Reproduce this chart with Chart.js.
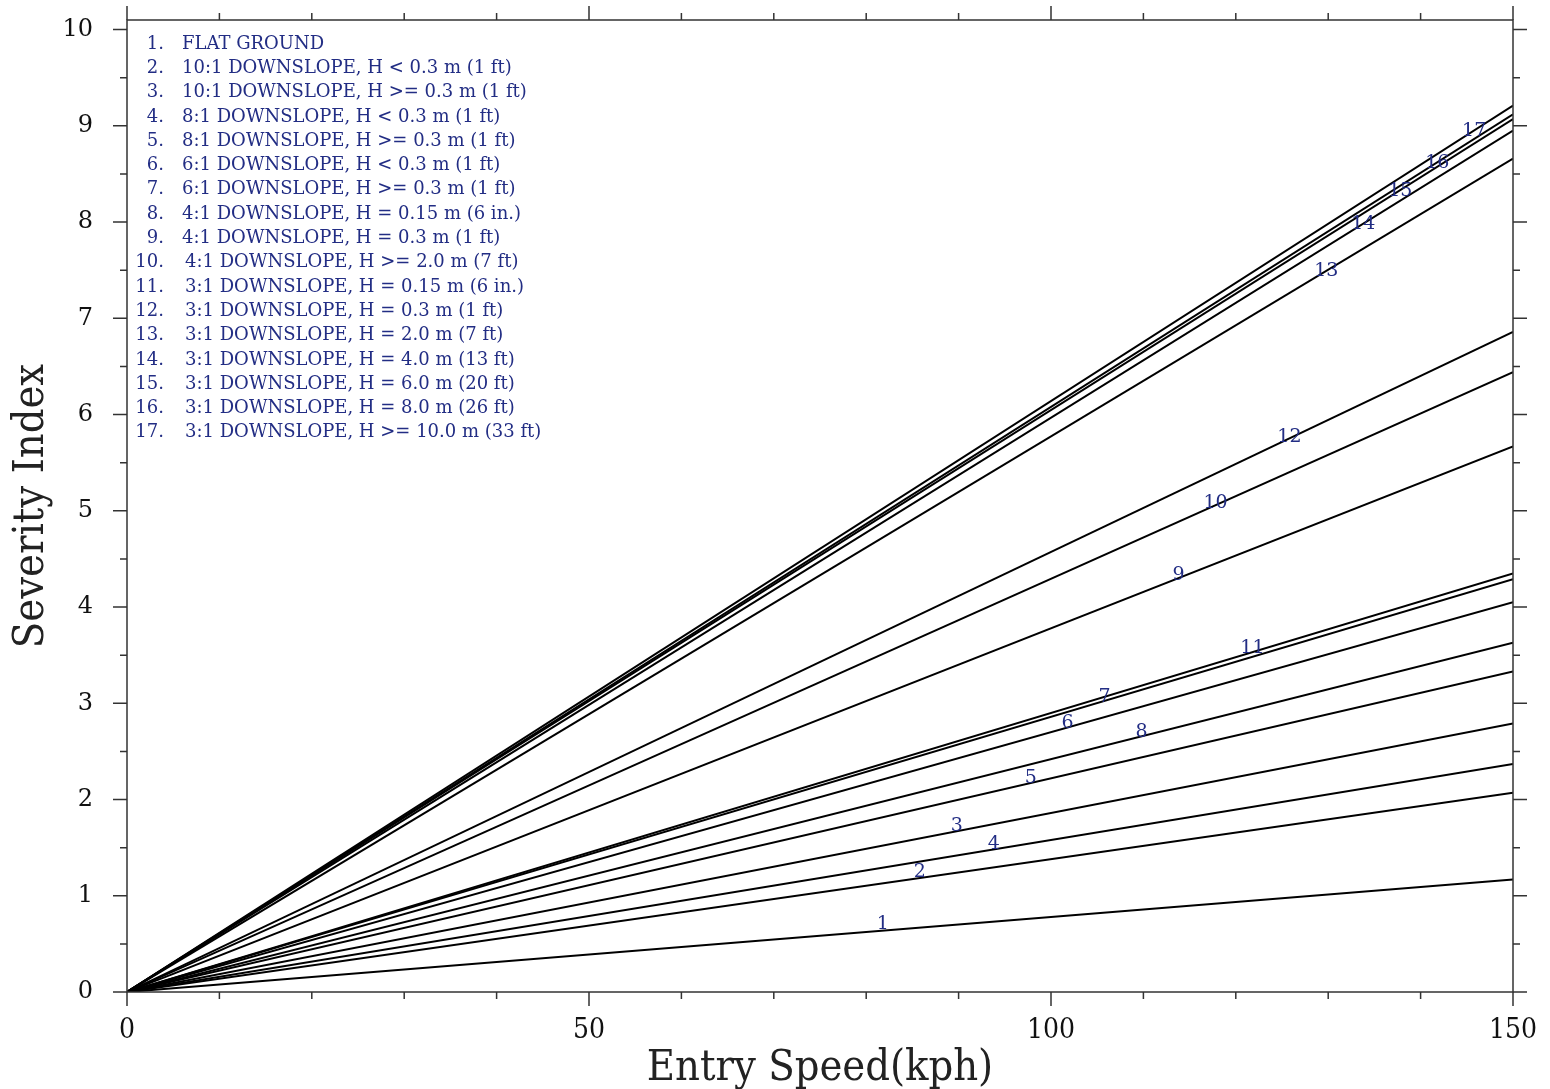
<!DOCTYPE html>
<html>
<head>
<meta charset="utf-8">
<script src="https://cdn.jsdelivr.net/npm/chart.js@4.4.0/dist/chart.umd.min.js"></script>
<style>
    html, body { margin: 0; padding: 0; background: #fff; }
</style>
</head>
<body>
<canvas id="severityChart" width="1550" height="1089"></canvas>
<script>
// entry speed (kph) at which each curve is given
const speedKph = [0, 150];

// severity index for each curve, read at speedKph
const severityValues = [
    [0, 1.17],  // 1
    [0, 2.07],  // 2
    [0, 2.79],  // 3
    [0, 2.37],  // 4
    [0, 3.33],  // 5
    [0, 4.05],  // 6
    [0, 4.29],  // 7
    [0, 3.63],  // 8
    [0, 5.67],  // 9
    [0, 6.44],  // 10
    [0, 4.35],  // 11
    [0, 6.86],  // 12
    [0, 8.66],  // 13
    [0, 8.95],  // 14
    [0, 9.07],  // 15
    [0, 9.12],  // 16
    [0, 9.21]   // 17
];

const curveNames = [
    'FLAT GROUND',
    '10:1 DOWNSLOPE, H < 0.3 m (1 ft)',
    '10:1 DOWNSLOPE, H >= 0.3 m (1 ft)',
    '8:1 DOWNSLOPE, H < 0.3 m (1 ft)',
    '8:1 DOWNSLOPE, H >= 0.3 m (1 ft)',
    '6:1 DOWNSLOPE, H < 0.3 m (1 ft)',
    '6:1 DOWNSLOPE, H >= 0.3 m (1 ft)',
    '4:1 DOWNSLOPE, H = 0.15 m (6 in.)',
    '4:1 DOWNSLOPE, H = 0.3 m (1 ft)',
    '4:1 DOWNSLOPE, H >= 2.0 m (7 ft)',
    '3:1 DOWNSLOPE, H = 0.15 m (6 in.)',
    '3:1 DOWNSLOPE, H = 0.3 m (1 ft)',
    '3:1 DOWNSLOPE, H = 2.0 m (7 ft)',
    '3:1 DOWNSLOPE, H = 4.0 m (13 ft)',
    '3:1 DOWNSLOPE, H = 6.0 m (20 ft)',
    '3:1 DOWNSLOPE, H = 8.0 m (26 ft)',
    '3:1 DOWNSLOPE, H >= 10.0 m (33 ft)'
];

const navy = '#222d84';

// frame, outward ticks on all four sides, numbered list and curve numbers
const annotatePlugin = {
    id: 'annotate',
    afterDatasetsDraw(chart) {
        const c = chart.ctx;
        const area = chart.chartArea;
        const xs = chart.scales.x;
        const ys = chart.scales.y;

        c.save();
        c.strokeStyle = '#333';
        c.lineWidth = 1.5;
        c.strokeRect(area.left, area.top, area.right - area.left, area.bottom - area.top);

        c.beginPath();
        xs.ticks.forEach(t => {
            const px = xs.getPixelForValue(t.value);
            const len = t.value % 50 === 0 ? 14 : 7;
            c.moveTo(px, area.bottom);
            c.lineTo(px, area.bottom + len);
            c.moveTo(px, area.top);
            c.lineTo(px, area.top - len);
        });
        ys.ticks.forEach(t => {
            const py = ys.getPixelForValue(t.value);
            const len = Number.isInteger(t.value) ? 14 : 7;
            c.moveTo(area.left, py);
            c.lineTo(area.left - len, py);
            c.moveTo(area.right, py);
            c.lineTo(area.right + len, py);
        });
        c.stroke();

        // numbers sitting on each curve
        c.fillStyle = navy;
        c.font = '19px "DejaVu Serif"';
        c.textAlign = 'center';
        c.textBaseline = 'middle';
        const spanPx = xs.getPixelForValue(speedKph[1]) - xs.getPixelForValue(speedKph[0]);
        severityValues.forEach((vals, i) => {
            const sx = 81.8 + 4 * i;
            const sy = vals[1] * sx / speedKph[1];
            const slope = (ys.getPixelForValue(0) - ys.getPixelForValue(vals[1])) / spanPx;
            c.fillText(String(i + 1), xs.getPixelForValue(sx), ys.getPixelForValue(sy) - 8 + 14 * slope);
        });

        // numbered list, top left
        c.font = '18px "DejaVu Serif"';
        c.textBaseline = 'middle';
        curveNames.forEach((name, i) => {
            const y = 44 + i * 24.3;
            c.textAlign = 'right';
            c.fillText((i + 1) + '.', 164, y);
            c.textAlign = 'left';
            c.fillText(name, i < 9 ? 182 : 185, y);
        });
        c.restore();
    }
};

// keep the plot box where the reference has it
function noOverhang(scale) {
    scale.paddingTop = 0;
    scale.paddingBottom = 0;
    scale.paddingLeft = 0;
    scale.paddingRight = 0;
}

const ctx = document.getElementById('severityChart').getContext('2d');
new Chart(ctx, {
    type: 'line',
    data: {
        datasets: severityValues.map((vals, i) => ({
            label: curveNames[i],
            data: speedKph.map((s, j) => ({ x: s, y: vals[j] })),
            borderColor: '#000',
            borderWidth: 2,
            pointRadius: 0,
            fill: false,
            tension: 0
        }))
    },
    options: {
        responsive: false,
        animation: false,
        layout: { padding: { top: 20, right: 37, left: 0, bottom: 0 } },
        plugins: {
            legend: { display: false },
            tooltip: { enabled: false }
        },
        scales: {
            x: {
                type: 'linear',
                min: 0,
                max: 150,
                grid: { display: false },
                border: { display: false },
                ticks: {
                    stepSize: 10,
                    autoSkip: false,
                    maxRotation: 0,
                    padding: 14,
                    color: '#111',
                    font: { family: 'DejaVu Serif Condensed', size: 28 },
                    callback: v => (v % 50 === 0 ? v : '')
                },
                title: {
                    display: true,
                    text: 'Entry Speed(kph)',
                    color: '#222',
                    font: { family: 'DejaVu Serif Condensed', size: 43, lineHeight: 0.95 },
                    padding: { top: 0, bottom: 0 }
                },
                afterFit: scale => { scale.height = 97; noOverhang(scale); }
            },
            y: {
                type: 'linear',
                min: 0,
                max: 10.1,
                grid: { display: false },
                border: { display: false },
                ticks: {
                    stepSize: 0.5,
                    includeBounds: false,
                    padding: 26,
                    color: '#111',
                    font: { family: 'DejaVu Serif', size: 24 },
                    callback: v => (Number.isInteger(v) ? v : '')
                },
                title: {
                    display: true,
                    text: 'Severity Index',
                    color: '#222',
                    font: { family: 'DejaVu Serif Condensed', size: 43 },
                    padding: { top: 6, bottom: 0 }
                },
                afterFit: scale => { scale.width = 127; noOverhang(scale); }
            }
        }
    },
    plugins: [annotatePlugin]
});
</script>
</body>
</html>
